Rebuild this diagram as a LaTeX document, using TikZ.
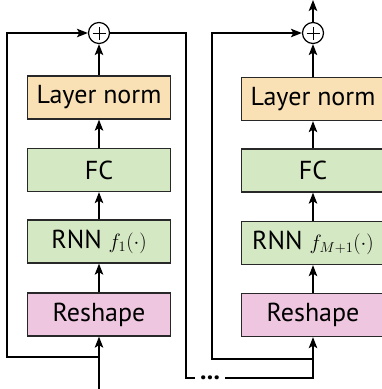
\documentclass[tikz,border=0pt]{standalone}
\usepackage{fontspec}
\setmainfont{PT Sans}
\usetikzlibrary{arrows.meta}
\definecolor{lncol}{RGB}{249,225,181}
\definecolor{fccol}{RGB}{213,232,196}
\definecolor{rscol}{RGB}{238,198,223}
\definecolor{edge}{RGB}{40,40,40}
\tikzset{
  blk/.style={draw=edge, line width=1.3pt, minimum width=143pt, minimum height=43pt, inner sep=0pt, font=\fontsize{26}{30}\selectfont},
  lnbox/.style={blk, fill=lncol},
  fcbox/.style={blk, fill=fccol},
  rsbox/.style={blk, fill=rscol},
  sumnode/.style={circle, draw=black, line width=1.2pt, minimum size=21pt, inner sep=0pt, fill=white,
    path picture={\draw[line width=1pt] ([xshift=-6.5pt]path picture bounding box.center) -- ([xshift=6.5pt]path picture bounding box.center);
                  \draw[line width=1pt] ([yshift=-6.5pt]path picture bounding box.center) -- ([yshift=6.5pt]path picture bounding box.center);}},
  conn/.style={draw=black, line width=1.4pt},
  arr/.style={conn, -{Stealth[length=11pt,width=8.5pt,inset=2.5pt]}},
  dotstyle/.style={inner ysep=0pt, inner xsep=5pt, text height=3.5pt, text depth=0pt, font=\fontsize{26}{26}\selectfont\bfseries}
}
\newcommand{\mfn}[1]{{\fontsize{22}{24}\selectfont$#1$}}
\begin{document}
\begin{tikzpicture}[x=1pt,y=-1pt]
\useasboundingbox (0,0) rectangle (382,389);
\clip (0,0) rectangle (382,389);
% left column
\node[sumnode] (plus1) at (99,33) {};
\node[lnbox] (ln1) at (99,97.5) {Layer norm};
\node[fcbox] (fc1) at (99,170) {FC};
\node[fcbox] (rnn1) at (99,241.5) {RNN \mfn{f_1(\cdot)}};
\node[rsbox] (rs1) at (99,314.5) {Reshape};
\coordinate (in1) at (99,389);
\coordinate (j1) at (99,357);
\coordinate (l1) at (7,357);
\coordinate (r1) at (186,378);
% right column
\node[sumnode] (plus2) at (313,33) {};
\node[lnbox] (ln2) at (313,99) {Layer norm};
\node[fcbox] (fc2) at (313,170.5) {FC};
\node[fcbox] (rnn2) at (313,243) {RNN \mfn{f_{M+1}(\cdot)}};
\node[rsbox] (rs2) at (313,315) {Reshape};
\coordinate (out2) at (313,0);
\coordinate (j2) at (313,359);
\coordinate (l2) at (212,359);
\coordinate (b2) at (313,378);
\node[dotstyle] (gap) at (210,378) {...};
% connectors left
\draw[arr] (in1) -- (rs1.south);
\draw[arr] (rs1.north) -- (rnn1.south);
\draw[arr] (rnn1.north) -- (fc1.south);
\draw[arr] (fc1.north) -- (ln1.south);
\draw[arr] (ln1.north) -- (plus1.south);
\draw[arr] (j1) -- (l1) |- (plus1.west);
\draw[conn] (plus1.east) -| (r1) -- (gap.west);
% connectors right
\draw[conn] (gap.east) -- (b2) -- (j2);
\draw[arr] (j2) -- (rs2.south);
\draw[arr] (rs2.north) -- (rnn2.south);
\draw[arr] (rnn2.north) -- (fc2.south);
\draw[arr] (fc2.north) -- (ln2.south);
\draw[arr] (ln2.north) -- (plus2.south);
\draw[arr] (j2) -- (l2) |- (plus2.west);
\draw[arr] (plus2.north) -- (out2);
\end{tikzpicture}
\end{document}
